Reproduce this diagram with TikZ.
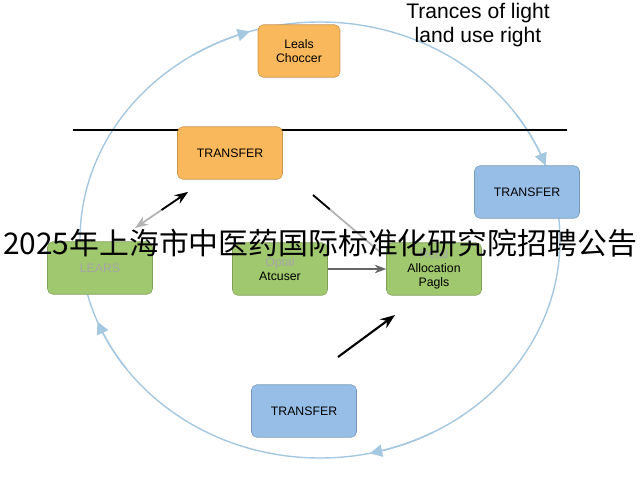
\documentclass[tikz,border=0pt]{standalone}
\usepackage{fontspec}
\setmainfont{Liberation Sans}
\newfontfamily\cjk{Noto Sans CJK SC}
\usetikzlibrary{arrows.meta,calc}
\definecolor{orng}{RGB}{250,184,92}
\definecolor{bluebox}{RGB}{150,190,230}
\definecolor{grn}{RGB}{160,200,110}
\definecolor{ring}{RGB}{165,200,225}
\tikzset{
  box/.style={draw=#1!80!black, fill=#1, rounded corners=3pt, minimum width=2.1cm, minimum height=1.05cm, align=center, font=\scriptsize, line width=0.3pt},
  ringarrow/.style={draw=ring, line width=0.8pt, -{Triangle[length=7pt,width=7pt]}, samples=12},
}
\newcommand{\ringtip}[2]{\draw[ringarrow, domain=#1:#2] plot ({320+240*cos(\x)},{240-218*sin(\x)});}
\begin{document}
\begin{tikzpicture}[x=0.02cm,y=-0.02cm]
			\useasboundingbox (0,0) rectangle (640,480);
			\draw[ring, line width=0.8pt] (320,240) ellipse (240 and 218);
			\ringtip{122}{107}
			\ringtip{35}{20}
			\ringtip{-62}{-78}
			\ringtip{216}{202}
			\draw[line width=0.8pt] (73,130) -- (567,130);
			\node[box=orng, minimum width=1.64cm] (leals) at (299,51) {Leals\\Choccer};
			\node[box=orng] (ttop) at (230,153) {TRANSFER};
			\node[box=bluebox] (tright) at (527,192) {TRANSFER};
			\node[box=grn] (lears) at (100,268) {\color{gray!70}LEARS};
			\node[box=grn, minimum width=1.9cm] (optal) at (280,269) {\color{gray!70}Optal\\Atcuser};
			\node[box=grn, minimum width=1.9cm, inner sep=1pt] (retal) at (434,269) {\color{gray!70}Retal\\Allocation\\Pagls};
			\node[box=bluebox] (tbot) at (304,411) {TRANSFER};
			\coordinate (a) at (188,192);
			\coordinate (b) at (135,228);
			\coordinate (c) at (313,195);
			\coordinate (d) at (380,252);
			\coordinate (e) at (338,357);
			\coordinate (f) at (395,315);
			\draw[gray!60, line width=1pt, {Stealth}-{Stealth}] (b) -- (a);
			\draw[line width=1pt, -{Stealth}] ($(a)!0.5!(b)$) -- (a);
			\draw[gray!60, line width=1pt] (c) -- (d);
			\draw[line width=1pt] (c) -- ($(c)!0.25!(d)$);
			\draw[gray!80!black, line width=0.8pt, -{Stealth}] (optal.east) -- (retal.west);
			\draw[line width=1.2pt, -{Stealth}] (e) -- (f);
			\node[font=\large, align=center, inner sep=0pt] (title) at (478,25) {Trances of light\\land use right};
			\node[font=\cjk\fontsize{17}{17}\selectfont, inner sep=0pt] (ad) at (320,243) {2025年上海市中医药国际标准化研究院招聘公告};
		\end{tikzpicture}
\end{document}
